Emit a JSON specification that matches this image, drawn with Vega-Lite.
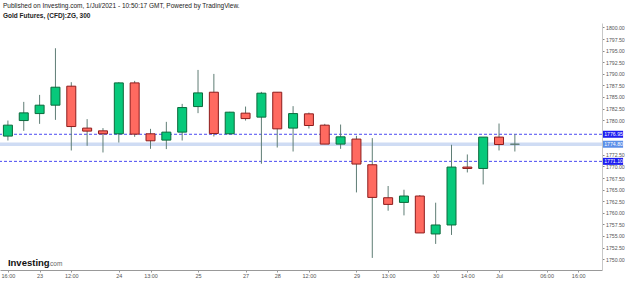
{
  "$schema": "https://vega.github.io/schema/vega-lite/v6.json",
  "autosize": "none",
  "width": 602,
  "height": 247,
  "padding": {"left": 0, "top": 23, "right": 23, "bottom": 11},
  "background": "white",
  "config": {
    "view": {"stroke": null},
    "font": "Liberation Sans",
    "axis": {"labelFont": "Liberation Sans", "grid": false, "labelOverlap": false},
    "axisY": {"labelOverlap": false, "labelBound": false},
    "scale": {"continuousPadding": 0}
  },
  "title": {
    "text": "Published on Investing.com, 1/Jul/2021 - 10:50:17 GMT, Powered by TradingView.",
    "subtitle": "Gold Futures, (CFD):ZG, 300",
    "anchor": "start",
    "frame": "group",
    "font": "Liberation Sans",
    "fontSize": 6.5,
    "fontWeight": "normal",
    "color": "#222222",
    "subtitleFont": "Liberation Sans",
    "subtitleFontSize": 6.5,
    "subtitleFontWeight": "bold",
    "subtitleColor": "#222222",
    "subtitlePadding": 3,
    "offset": 4,
    "dx": 3
  },
  "datasets": {
    "candles": [
      {"i": 1, "open": 1776.55, "high": 1779.91, "low": 1775.60, "close": 1778.92},
      {"i": 2, "open": 1779.91, "high": 1783.94, "low": 1777.69, "close": 1781.57},
      {"i": 3, "open": 1781.42, "high": 1785.45, "low": 1779.20, "close": 1783.23},
      {"i": 4, "open": 1783.23, "high": 1795.52, "low": 1780.06, "close": 1787.11},
      {"i": 5, "open": 1787.33, "high": 1788.19, "low": 1773.45, "close": 1778.62},
      {"i": 6, "open": 1778.28, "high": 1780.22, "low": 1774.46, "close": 1777.63},
      {"i": 7, "open": 1777.69, "high": 1778.28, "low": 1773.02, "close": 1777.05},
      {"i": 8, "open": 1777.05, "high": 1788.19, "low": 1775.17, "close": 1788.04},
      {"i": 9, "open": 1788.04, "high": 1788.47, "low": 1776.40, "close": 1776.98},
      {"i": 10, "open": 1777.05, "high": 1778.12, "low": 1773.81, "close": 1775.54},
      {"i": 11, "open": 1775.69, "high": 1779.63, "low": 1773.75, "close": 1777.41},
      {"i": 12, "open": 1777.41, "high": 1783.51, "low": 1775.60, "close": 1782.72},
      {"i": 13, "open": 1782.93, "high": 1790.84, "low": 1781.51, "close": 1785.88},
      {"i": 14, "open": 1786.03, "high": 1789.98, "low": 1776.47, "close": 1777.11},
      {"i": 15, "open": 1777.05, "high": 1781.80, "low": 1777.00, "close": 1781.72},
      {"i": 16, "open": 1781.51, "high": 1782.93, "low": 1779.91, "close": 1780.34},
      {"i": 17, "open": 1780.65, "high": 1786.10, "low": 1770.58, "close": 1785.82},
      {"i": 18, "open": 1786.03, "high": 1786.03, "low": 1774.09, "close": 1778.12},
      {"i": 19, "open": 1778.28, "high": 1783.02, "low": 1773.23, "close": 1781.42},
      {"i": 20, "open": 1781.36, "high": 1781.64, "low": 1778.19, "close": 1778.84},
      {"i": 21, "open": 1778.92, "high": 1779.20, "low": 1774.83, "close": 1774.83},
      {"i": 22, "open": 1774.83, "high": 1779.05, "low": 1773.81, "close": 1776.40},
      {"i": 23, "open": 1775.91, "high": 1776.62, "low": 1764.40, "close": 1770.52},
      {"i": 24, "open": 1770.37, "high": 1776.12, "low": 1750.26, "close": 1763.32},
      {"i": 25, "open": 1763.25, "high": 1765.78, "low": 1760.45, "close": 1761.81},
      {"i": 26, "open": 1762.24, "high": 1764.98, "low": 1759.44, "close": 1763.62},
      {"i": 27, "open": 1763.62, "high": 1763.84, "low": 1755.65, "close": 1755.65},
      {"i": 28, "open": 1755.43, "high": 1762.18, "low": 1753.28, "close": 1757.37},
      {"i": 29, "open": 1757.37, "high": 1774.68, "low": 1755.22, "close": 1769.87},
      {"i": 30, "open": 1769.87, "high": 1772.59, "low": 1768.71, "close": 1769.57},
      {"i": 31, "open": 1769.57, "high": 1776.34, "low": 1766.12, "close": 1776.34},
      {"i": 32, "open": 1776.34, "high": 1779.27, "low": 1773.45, "close": 1774.74},
      {"i": 33, "open": 1774.80, "high": 1776.95, "low": 1773.23, "close": 1774.80}
    ],
    "levels": [
      {"price": 1776.95, "kind": "level"},
      {"price": 1774.80, "kind": "current"},
      {"price": 1771.10, "kind": "level"}
    ],
    "brand": [{"name": "Investing", "suffix": ".com"}]
  },
  "encoding": {
    "y": {
      "type": "quantitative",
      "scale": {"domain": [1747.65, 1800.97], "nice": false, "zero": false, "padding": 0},
      "axis": {
        "orient": "right",
        "values": [1750, 1752.5, 1755, 1757.5, 1760, 1762.5, 1765, 1767.5, 1770, 1772.5, 1780, 1782.5, 1785, 1787.5, 1790, 1792.5, 1795, 1797.5, 1800],
        "format": ".2f",
        "title": null,
        "domainColor": "#c8c8c8",
        "domainWidth": 1,
        "tickColor": "#888888",
        "tickSize": 2,
        "labelFontSize": 5.2,
        "labelColor": "#555555",
        "labelPadding": 1.5,
        "labelBound": false,
        "labelOverlap": false,
        "labelFlush": false
      }
    }
  },
  "layer": [
    {
      "data": {"name": "levels"},
      "transform": [{"filter": "datum.kind == 'current'"}],
      "mark": {"type": "rule", "color": "#cfdcf4", "strokeWidth": 3.5},
      "encoding": {
        "y": {
          "field": "price", "type": "quantitative",
          "scale": {"domain": [1747.65, 1800.97], "nice": false, "zero": false, "padding": 0},
          "axis": {
            "orient": "right",
            "values": [1750, 1752.5, 1755, 1757.5, 1760, 1762.5, 1765, 1767.5, 1770, 1772.5, 1780, 1782.5, 1785, 1787.5, 1790, 1792.5, 1795, 1797.5, 1800],
            "format": ".2f",
            "title": null,
            "domainColor": "#c8c8c8",
            "domainWidth": 1,
            "tickColor": "#888888",
            "tickSize": 2,
            "labelFontSize": 5.2,
            "labelColor": "#555555",
            "labelPadding": 1.5,
            "labelBound": false,
            "labelOverlap": false,
            "labelFlush": false
          }
        }
      }
    },
    {
      "data": {"name": "levels"},
      "transform": [{"filter": "datum.kind == 'level'"}],
      "mark": {"type": "rule", "color": "#4a4af2", "strokeWidth": 1, "strokeDash": [3, 2]},
      "encoding": {
        "y": {"field": "price", "type": "quantitative"}
      }
    },
    {
      "data": {"name": "candles"},
      "mark": {"type": "rule", "color": "#5f7d75", "strokeWidth": 1},
      "encoding": {
        "x": {
          "field": "i", "type": "quantitative",
          "scale": {"domain": [0.5, 38.5], "nice": false, "zero": false, "padding": 0},
          "axis": {
            "values": [1, 3, 5, 8, 10, 13, 16, 18, 20, 23, 25, 28, 30, 32, 35, 37],
            "labelExpr": "['', '16:00', '', '23', '', '12:00', '', '', '24', '', '13:00', '', '', '25', '', '', '27', '', '28', '', '12:00', '', '', '29', '', '13:00', '', '', '30', '', '14:00', '', 'Jul', '', '', '06:00', '', '16:00', ''][datum.value]",
            "title": null,
            "domainColor": "#999999",
            "domainWidth": 1,
            "tickColor": "#999999",
            "tickSize": 2,
            "labelFontSize": 5.5,
            "labelColor": "#555555",
            "labelPadding": 1,
            "labelBound": false,
            "labelOverlap": false,
            "labelFlush": false
          }
        },
        "y": {"field": "low", "type": "quantitative"},
        "y2": {"field": "high"}
      }
    },
    {
      "data": {"name": "candles"},
      "mark": {"type": "bar", "width": 9, "strokeWidth": 1},
      "encoding": {
        "x": {"field": "i", "type": "quantitative"},
        "y": {"field": "open", "type": "quantitative"},
        "y2": {"field": "close"},
        "fill": {
          "condition": {"test": "datum.close >= datum.open", "value": "#07c97b"},
          "value": "#ff6a60"
        },
        "stroke": {
          "condition": [
            {"test": "datum.close == datum.open", "value": "#5f7d75"},
            {"test": "datum.close > datum.open", "value": "#0c6a3c"}
          ],
          "value": "#8e1c1c"
        }
      }
    },
    {
      "data": {"name": "levels"},
      "mark": {"type": "bar", "orient": "horizontal", "height": 7},
      "encoding": {
        "x": {"datum": 38.56, "type": "quantitative"},
        "x2": {"datum": 39.83},
        "y": {"field": "price", "type": "quantitative"},
        "color": {
          "field": "kind", "type": "nominal",
          "scale": {"domain": ["level", "current"], "range": ["#1e1ef0", "#5c8fe8"]},
          "legend": null
        }
      }
    },
    {
      "data": {"name": "levels"},
      "mark": {"type": "text", "align": "left", "baseline": "middle", "color": "white", "fontSize": 5.2, "font": "Liberation Sans"},
      "encoding": {
        "x": {"datum": 38.64, "type": "quantitative"},
        "y": {"field": "price", "type": "quantitative"},
        "text": {"field": "price", "type": "quantitative", "format": ".2f"}
      }
    },
    {
      "data": {"name": "brand"},
      "mark": {"type": "text", "align": "left", "baseline": "alphabetic", "color": "#111111", "fontSize": 9.5, "fontWeight": "bold", "font": "Liberation Sans", "letterSpacing": -0.5},
      "encoding": {
        "x": {"datum": 1.0, "type": "quantitative"},
        "y": {"datum": 1748.6, "type": "quantitative"},
        "text": {"field": "name"}
      }
    },
    {
      "data": {"name": "brand"},
      "mark": {"type": "text", "align": "left", "baseline": "alphabetic", "color": "#666666", "fontSize": 6.5, "font": "Liberation Sans"},
      "encoding": {
        "x": {"datum": 3.55, "type": "quantitative"},
        "y": {"datum": 1748.6, "type": "quantitative"},
        "text": {"field": "suffix"}
      }
    }
  ]
}
